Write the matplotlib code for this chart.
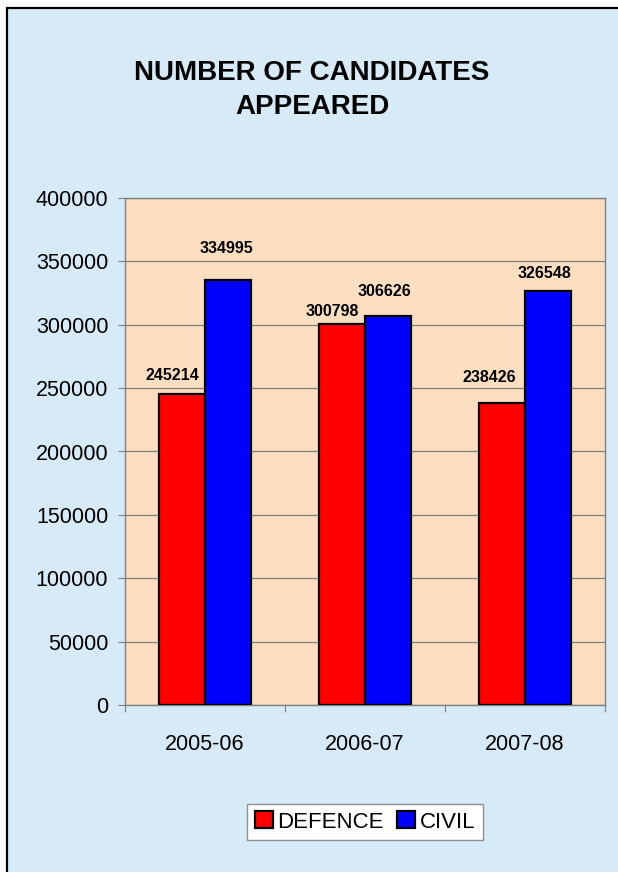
"""
Number of candidates appeared - grouped bar chart
"""
import numpy as np
import matplotlib.pyplot as plt
from matplotlib.patches import Rectangle

plt.rcParams['font.family'] = ['Liberation Sans', 'DejaVu Sans']

# ========== data ==========
years = ['2005-06', '2006-07', '2007-08']
defence = [245214, 300798, 238426]
civil = [334995, 306626, 326548]
series_names = ['DEFENCE', 'CIVIL']
y_ticks = list(range(0, 400001, 50000))

# label nudges in px (Excel placed them a little irregularly)
defence_nudge = [(-9, 11), (-10, 5), (-12, 18)]
civil_nudge = [(-2, 24), (-4, 17), (-4, 10)]

W, H = 618, 872
fig = plt.figure(figsize=(W / 100, H / 100), dpi=100, facecolor='white')

# light blue chart area with black frame (only left/top edges visible)
bg = Rectangle((7 / W, -0.05), 1.1, (H - 8) / H + 0.05, transform=fig.transFigure,
               facecolor='#D6EAF8', edgecolor='black', linewidth=1.6, zorder=0)
fig.add_artist(bg)

ax = fig.add_axes([125 / W, 1 - 705 / H, (605 - 125) / W, (705 - 198) / H])
ax.set_facecolor('#FCDFC0')

x = np.arange(len(years))
bw = 0.29
b1 = ax.bar(x - bw / 2, defence, bw, color='#FF0000', edgecolor='black',
            linewidth=1.6, label=series_names[0], zorder=3)
b2 = ax.bar(x + bw / 2, civil, bw, color='#0000FF', edgecolor='black',
            linewidth=1.6, label=series_names[1], zorder=3)

for bars, vals, nudge in [(b1, defence, defence_nudge), (b2, civil, civil_nudge)]:
    for rect, v, (dx, dy) in zip(bars, vals, nudge):
        ax.annotate(f'{v}', (rect.get_x() + rect.get_width() / 2, v),
                    xytext=(dx * 0.72, dy * 0.72), textcoords='offset points',
                    ha='center', va='bottom', fontsize=11.5, fontweight='bold')

ax.set_xlim(-0.5, len(years) - 0.5)
ax.set_ylim(0, 400000)
ax.set_yticks(y_ticks)
ax.set_yticklabels([str(t) for t in y_ticks])
ax.yaxis.grid(True, color='#808080', linewidth=0.9, zorder=0)
ax.set_axisbelow(True)

# category boundaries get the tick marks, centres get the labels
ax.set_xticks(np.arange(len(years) + 1) - 0.5)
ax.set_xticklabels([''] * (len(years) + 1))
ax.set_xticks(x, minor=True)
ax.set_xticklabels(years, minor=True)
ax.tick_params(axis='x', which='major', length=5, color='#808080')
ax.tick_params(axis='x', which='minor', length=0, pad=21, labelsize=15.5)
ax.tick_params(axis='y', length=5, color='#808080', pad=7, labelsize=15.5)

for s in ax.spines.values():
    s.set_color('#808080')
    s.set_linewidth(1.0)

fig.text(312 / W, 1 - 90 / H, 'NUMBER OF CANDIDATES\nAPPEARED', ha='center', va='center',
         fontsize=20, fontweight='bold', linespacing=1.4)

leg = fig.legend(loc='center', bbox_to_anchor=(365 / W, 1 - 822 / H), ncol=2,
                 fontsize=16, frameon=True, fancybox=False, edgecolor='#909090',
                 facecolor='white', framealpha=1, handlelength=0.8, handleheight=0.8,
                 handletextpad=0.2, columnspacing=0.6, borderpad=0.35)
leg.get_frame().set_linewidth(1.0)

plt.savefig('out.png', dpi=100, facecolor=fig.get_facecolor())
